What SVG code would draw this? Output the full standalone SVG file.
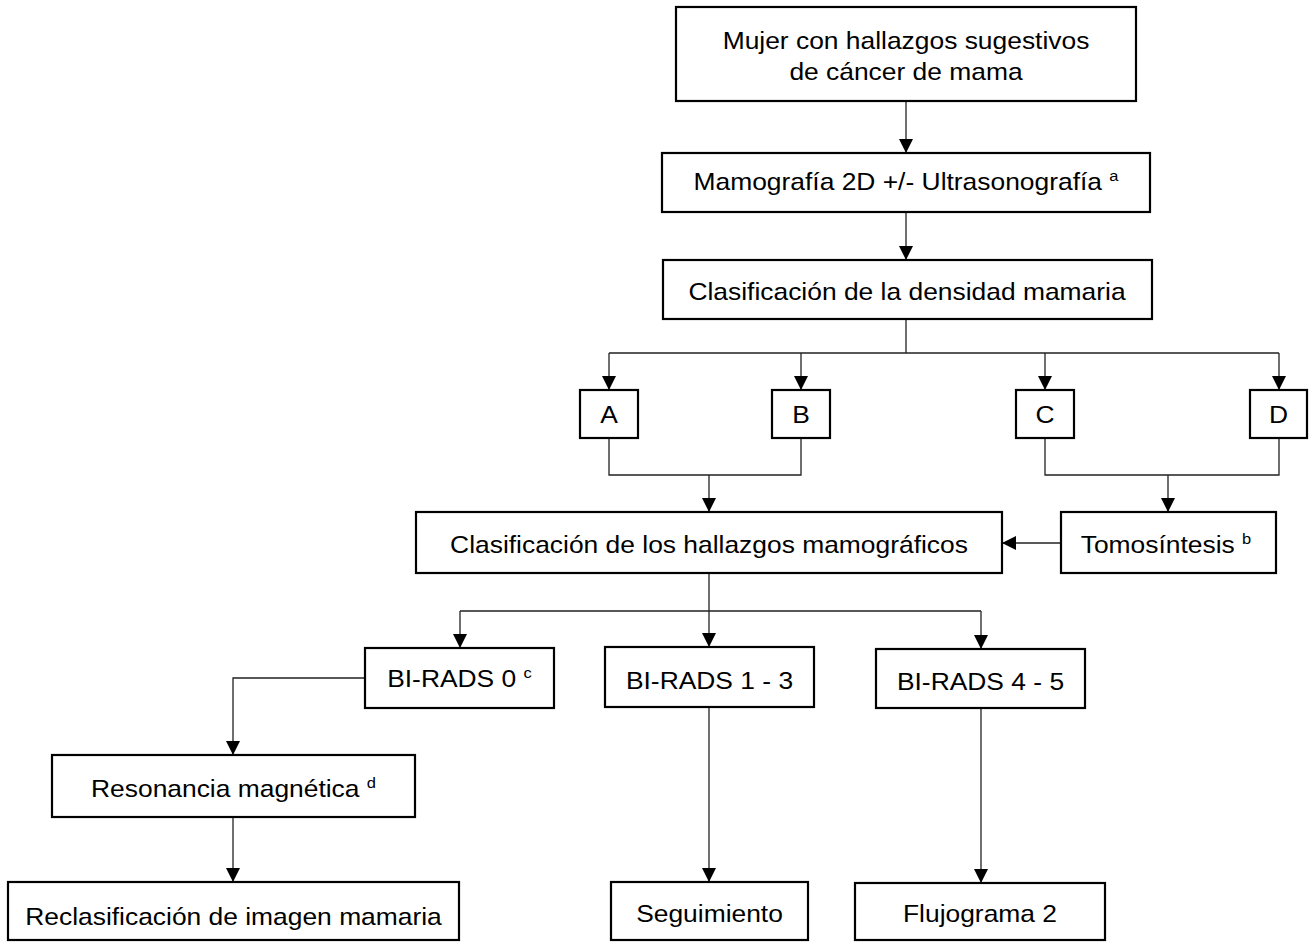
<svg xmlns="http://www.w3.org/2000/svg" width="1312" height="942" viewBox="0 0 1312 942">
<defs>
<marker id="ah" viewBox="0 0 10 10" refX="10" refY="5" markerUnits="userSpaceOnUse" markerWidth="14" markerHeight="14" orient="auto">
<path d="M0,0 L10,5 L0,10 z" fill="#000"/>
</marker>
<style>
.b{fill:#fff;stroke:#000;stroke-width:2.2}
.t{font-family:"Liberation Sans",Arial,sans-serif;font-size:24px;fill:#000;text-anchor:middle}
.s{font-size:15px}
.c{fill:none;stroke:#222;stroke-width:1.3}
.a{marker-end:url(#ah)}
</style>
</defs>
<rect width="1312" height="942" fill="#fff"/>
<g id="connectors">
<path class="c a" d="M906,101 V153"/>
<path class="c a" d="M906,212 V260"/>
<path class="c" d="M906,319 V353 M609,353 H1279"/>
<path class="c a" d="M609,353 V390"/>
<path class="c a" d="M801,353 V390"/>
<path class="c a" d="M1045,353 V390"/>
<path class="c a" d="M1279,353 V390"/>
<path class="c" d="M609,438 V475 H801 V438"/>
<path class="c a" d="M709,475 V512"/>
<path class="c" d="M1045,438 V475 H1279 V438"/>
<path class="c a" d="M1168,475 V512"/>
<path class="c a" d="M1061,543 H1002"/>
<path class="c" d="M709,573 V611 M460,611 H981"/>
<path class="c a" d="M460,611 V648"/>
<path class="c a" d="M709,611 V647"/>
<path class="c a" d="M981,611 V649"/>
<path class="c a" d="M365,678 H233 V755"/>
<path class="c a" d="M233,817 V882"/>
<path class="c a" d="M709,707 V882"/>
<path class="c a" d="M981,708 V883"/>
</g>
<g id="n1"><rect class="b" x="676" y="7" width="460" height="94"/>
<text class="t" transform="translate(906,48.5) scale(1.1,1)">Mujer con hallazgos sugestivos</text>
<text class="t" transform="translate(906,80) scale(1.1,1)">de cáncer de mama</text></g>
<g id="n2"><rect class="b" x="662" y="153" width="488" height="59"/>
<text class="t" transform="translate(906,190) scale(1.1,1)">Mamografía 2D +/- Ultrasonografía <tspan class="s" dy="-9">a</tspan></text></g>
<g id="n3"><rect class="b" x="663" y="260" width="489" height="59"/>
<text class="t" transform="translate(907,299.5) scale(1.1,1)">Clasificación de la densidad mamaria</text></g>
<g id="nA"><rect class="b" x="580" y="390" width="58" height="48"/>
<text class="t" transform="translate(609,423) scale(1.1,1)">A</text></g>
<g id="nB"><rect class="b" x="772" y="390" width="58" height="48"/>
<text class="t" transform="translate(801,423) scale(1.1,1)">B</text></g>
<g id="nC"><rect class="b" x="1016" y="390" width="58" height="48"/>
<text class="t" transform="translate(1045,423) scale(1.1,1)">C</text></g>
<g id="nD"><rect class="b" x="1250" y="390" width="57" height="48"/>
<text class="t" transform="translate(1278.5,423) scale(1.1,1)">D</text></g>
<g id="n4"><rect class="b" x="416" y="512" width="586" height="61"/>
<text class="t" transform="translate(709,552.5) scale(1.1,1)">Clasificación de los hallazgos mamográficos</text></g>
<g id="n5"><rect class="b" x="1061" y="512" width="215" height="61"/>
<text class="t" transform="translate(1166,552.5) scale(1.1,1)">Tomosíntesis <tspan class="s" dy="-9">b</tspan></text></g>
<g id="n6"><rect class="b" x="365" y="648" width="189" height="60"/>
<text class="t" transform="translate(459.5,687) scale(1.1,1)">BI-RADS 0 <tspan class="s" dy="-9">c</tspan></text></g>
<g id="n7"><rect class="b" x="605" y="647" width="209" height="60"/>
<text class="t" transform="translate(709.5,688.5) scale(1.1,1)">BI-RADS 1 - 3</text></g>
<g id="n8"><rect class="b" x="876" y="649" width="209" height="59"/>
<text class="t" transform="translate(980.5,689.5) scale(1.1,1)">BI-RADS 4 - 5</text></g>
<g id="n9"><rect class="b" x="52" y="755" width="363" height="62"/>
<text class="t" transform="translate(233.5,797) scale(1.1,1)">Resonancia magnética <tspan class="s" dy="-9">d</tspan></text></g>
<g id="n10"><rect class="b" x="8" y="882" width="451" height="58"/>
<text class="t" transform="translate(233.5,925) scale(1.1,1)">Reclasificación de imagen mamaria</text></g>
<g id="n11"><rect class="b" x="611" y="882" width="197" height="58"/>
<text class="t" transform="translate(709.5,922) scale(1.1,1)">Seguimiento</text></g>
<g id="n12"><rect class="b" x="855" y="883" width="250" height="57"/>
<text class="t" transform="translate(980,922) scale(1.1,1)">Flujograma 2</text></g>
</svg>
